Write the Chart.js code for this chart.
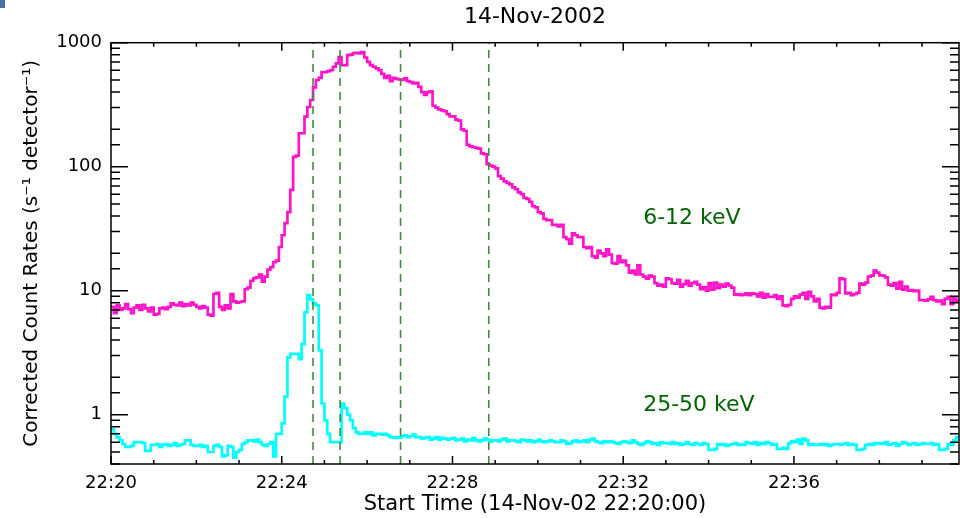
<!DOCTYPE html>
<html>
<head>
<meta charset="utf-8">
<title>RHESSI light curve 14-Nov-2002</title>
<script src="https://cdn.jsdelivr.net/npm/chart.js@4.4.1/dist/chart.umd.min.js"></script>
<style>
  html, body { margin: 0; padding: 0; background: #fff; }
  #wrap { position: relative; width: 960px; height: 518px; }
  #corner { position: absolute; left: 0; top: 0; width: 5px; height: 8px; background: #4a6fa5; }
</style>
</head>
<body>
<div id="wrap"><canvas id="lightCurve"></canvas><div id="corner"></div></div>
<script>
// 4 s accumulation bins starting at 22:20:00, one row per minute
const BIN_SECONDS = 4;

const lowBand = [ // 6-12 keV
  7.4, 6.6, 7.6, 7.0, 7.2, 7.8, 7.1, 6.6, 7.3, 7.6, 7.0, 7.7, 7.2, 6.8, 7.3,
  6.4, 6.5, 7.2, 7.3, 7.1, 7.4, 7.9, 7.7, 7.6, 8.0, 7.5, 7.8, 7.6, 8.0, 7.7,
  7.4, 7.2, 7.5, 7.3, 6.4, 6.3, 9.4, 9.6, 7.4, 7.0, 7.6, 7.2, 9.4, 8.2, 8.0,
  8.1, 8.2, 10.3, 10.6, 12.0, 12.6, 12.8, 13.5, 11.8, 13.0, 14.8, 15.5, 17.0, 17.5, 22.5,
  28, 35, 43, 65, 120, 123, 186, 186, 253, 303, 345, 437, 500, 520, 580,
  580, 590, 602, 640, 680, 765, 660, 660, 795, 800, 825, 830, 820, 840, 760,
  700, 660, 640, 620, 600, 560, 520, 540, 490, 520, 510, 505, 500, 515, 490,
  480, 470, 475, 440, 400, 380, 400, 405, 310, 300, 290, 285, 280, 265, 255,
  255, 240, 235, 200, 195, 150, 146, 144, 142, 140, 128, 126, 105, 102, 100,
  97, 84, 80, 76, 74, 72, 68, 66, 62, 60, 56, 55, 52, 48, 47,
  43, 42, 38, 37, 37, 34, 34, 33, 34, 27, 26, 24, 29, 28, 27,
  27, 22.5, 22, 22.5, 19, 18.5, 21, 20, 19, 21.5, 19.5, 16.7, 16.5, 19, 17,
  17.5, 16, 14, 14.5, 13.5, 16, 13.5, 13, 12.5, 13.2, 13, 11.5, 11, 11.2, 10.8,
  12.6, 12.4, 11.5, 11.4, 12.2, 10.8, 11.3, 12.0, 11.0, 11.5, 11.8, 11.2, 10.3, 10.7, 10.0,
  11.5, 10.2, 11.6, 10.5, 11.2, 10.8, 11.4, 11.0, 10.6, 9.3, 9.4, 9.2, 9.3, 9.5, 9.2,
  9.5, 9.4, 9.0, 9.6, 8.8, 9.4, 8.9, 8.9, 9.2, 8.6, 9.0, 7.6, 7.5, 7.7, 8.6,
  9.0, 8.8, 9.3, 9.6, 8.6, 9.8, 9.0, 8.2, 8.6, 7.3, 7.2, 7.4, 7.3, 9.3, 9.2,
  9.6, 12.6, 12.4, 9.5, 9.6, 9.2, 9.4, 9.6, 11.4, 11.2, 11.6, 13.0, 13.2, 14.5, 14.0,
  13.3, 13.2, 12.8, 11.2, 11.0, 11.5, 10.4, 11.8, 10.2, 10.8, 10.0, 10.1, 9.9, 10.0, 8.4,
  8.4, 8.3, 8.5, 8.9, 8.4, 8.2, 8.3, 7.8, 8.6, 8.9, 7.8, 8.8, 8.3,
];

const highBand = [ // 25-50 keV
  0.76, 0.70, 0.66, 0.62, 0.58, 0.55, 0.55, 0.56, 0.60, 0.60, 0.60, 0.59, 0.51, 0.51, 0.57,
  0.57, 0.58, 0.55, 0.57, 0.58, 0.56, 0.57, 0.59, 0.56, 0.57, 0.58, 0.62, 0.62, 0.57, 0.56,
  0.56, 0.57, 0.55, 0.56, 0.50, 0.50, 0.56, 0.57, 0.55, 0.46, 0.47, 0.56, 0.55, 0.45, 0.50,
  0.52, 0.58, 0.60, 0.62, 0.62, 0.61, 0.63, 0.60, 0.57, 0.56, 0.58, 0.60, 0.46, 0.70, 0.70,
  0.85, 1.4, 2.9, 3.1, 3.1, 3.1, 2.8, 3.7, 6.7, 9.2, 8.5, 7.9, 7.6, 3.3, 1.23,
  0.9, 0.7, 0.6, 0.6, 0.6, 0.6, 1.23, 1.13, 1.0, 0.9, 0.78, 0.72, 0.70, 0.70, 0.72,
  0.70, 0.72, 0.68, 0.70, 0.70, 0.69, 0.70, 0.68, 0.66, 0.65, 0.66, 0.65, 0.67, 0.68, 0.66,
  0.67, 0.69, 0.66, 0.66, 0.64, 0.65, 0.66, 0.63, 0.64, 0.66, 0.63, 0.65, 0.64, 0.63, 0.64,
  0.65, 0.62, 0.63, 0.64, 0.61, 0.63, 0.62, 0.65, 0.62, 0.61, 0.62, 0.64, 0.63, 0.61, 0.62,
  0.62, 0.61, 0.63, 0.64, 0.61, 0.62, 0.62, 0.61, 0.60, 0.63, 0.62, 0.61, 0.62, 0.60, 0.61,
  0.63, 0.61, 0.60, 0.61, 0.62, 0.61, 0.60, 0.60, 0.62, 0.61, 0.58, 0.59, 0.61, 0.62, 0.60,
  0.61, 0.62, 0.60, 0.63, 0.64, 0.61, 0.60, 0.59, 0.61, 0.60, 0.61, 0.60, 0.59, 0.58, 0.60,
  0.61, 0.60, 0.59, 0.62, 0.60, 0.58, 0.57, 0.59, 0.61, 0.60, 0.58, 0.59, 0.57, 0.60, 0.59,
  0.59, 0.58, 0.60, 0.58, 0.59, 0.57, 0.58, 0.60, 0.58, 0.57, 0.59, 0.58, 0.57, 0.59, 0.58,
  0.52, 0.52, 0.53, 0.58, 0.57, 0.58, 0.56, 0.57, 0.58, 0.59, 0.57, 0.58, 0.57, 0.60, 0.59,
  0.58, 0.60, 0.57, 0.59, 0.58, 0.60, 0.59, 0.57, 0.58, 0.53, 0.53, 0.54, 0.53, 0.59, 0.61,
  0.60, 0.63, 0.58, 0.64, 0.62, 0.57, 0.58, 0.57, 0.57, 0.58, 0.57, 0.58, 0.56, 0.57, 0.58,
  0.58, 0.57, 0.58, 0.59, 0.57, 0.58, 0.57, 0.52, 0.52, 0.53, 0.57, 0.58, 0.57, 0.59, 0.58,
  0.59, 0.58, 0.60, 0.57, 0.58, 0.59, 0.56, 0.58, 0.60, 0.59, 0.57, 0.58, 0.59, 0.57, 0.58,
  0.59, 0.58, 0.58, 0.59, 0.57, 0.58, 0.52, 0.52, 0.53, 0.58, 0.57, 0.62, 0.66,
];

// seconds after 22:20:00 of the imaging interval boundaries
const markerTimes = [284, 322, 407, 531];

const minuteTicks = Array.from({ length: 20 }, (_, i) => i * 60);
const labelTimes = [0, 240, 480, 720, 960];
const timeLabels = ["22:20", "22:24", "22:28", "22:32", "22:36"];

const bandNames = ["6-12 keV", "25-50 keV"];
const bandLabelTime = 748;
const bandLabelRate = [38.5, 1.19];

const Y_MIN = 0.4;
const Y_MAX = 1000;

const isDecade = (v) => Math.abs(Math.log10(v) - Math.round(Math.log10(v))) < 1e-6;

const toSteps = (values) => {
  const pts = values.map((v, i) => ({ x: i * BIN_SECONDS, y: v }));
  pts.push({ x: values.length * BIN_SECONDS, y: values[values.length - 1] });
  return pts;
};

// IDL-style box: inward ticks on all four sides plus the band labels
const idlFrame = {
  id: "idlFrame",
  afterDatasetsDraw(chart) {
    const { ctx, chartArea: a, scales } = chart;
    const x = scales.x;
    const y = scales.y;
    ctx.save();
    ctx.strokeStyle = "#000";
    ctx.lineWidth = 1.5;
    ctx.strokeRect(a.left, a.top, a.right - a.left, a.bottom - a.top);

    ctx.beginPath();
    minuteTicks.forEach((t) => {
      const px = x.getPixelForValue(t);
      const len = t % 240 === 0 ? 8 : 4;
      ctx.moveTo(px, a.bottom);
      ctx.lineTo(px, a.bottom - len);
      ctx.moveTo(px, a.top);
      ctx.lineTo(px, a.top + len);
    });
    y.ticks.forEach((t) => {
      const py = y.getPixelForValue(t.value);
      const len = isDecade(t.value) ? 17 : 9;
      ctx.moveTo(a.left, py);
      ctx.lineTo(a.left + len, py);
      ctx.moveTo(a.right, py);
      ctx.lineTo(a.right - len, py);
    });
    ctx.stroke();

    ctx.fillStyle = "#006400";
    ctx.font = "22px 'DejaVu Sans'";
    ctx.textBaseline = "middle";
    ctx.textAlign = "left";
    bandNames.forEach((name, i) => {
      ctx.fillText(name, x.getPixelForValue(bandLabelTime), y.getPixelForValue(bandLabelRate[i]));
    });
    ctx.restore();
  },
};

const markerSets = markerTimes.map((t) => ({
  data: [{ x: t, y: Y_MIN }, { x: t, y: Y_MAX }],
  borderColor: "#3f8a3f",
  borderWidth: 1.6,
  borderDash: [8, 6],
  pointRadius: 0,
  order: 0,
}));

Chart.defaults.font.family = "'DejaVu Sans', sans-serif";
Chart.defaults.color = "#000";

new Chart(document.getElementById("lightCurve"), {
  type: "line",
  data: {
    datasets: [
      ...markerSets,
      {
        label: bandNames[0],
        data: toSteps(lowBand),
        borderColor: "#ff14c8",
        borderWidth: 2.7,
        stepped: true,
        pointRadius: 0,
        order: 1,
      },
      {
        label: bandNames[1],
        data: toSteps(highBand),
        borderColor: "#00ffff",
        borderWidth: 2.7,
        stepped: true,
        pointRadius: 0,
        order: 1,
      },
    ],
  },
  options: {
    responsive: true,
    maintainAspectRatio: false,
    animation: false,
    events: [],
    layout: { padding: { left: 0, right: 1, top: 0, bottom: 0 } },
    plugins: {
      legend: { display: false },
      tooltip: { enabled: false },
      title: {
        display: true,
        fullSize: false,
        text: "14-Nov-2002",
        font: { size: 22, weight: "normal" },
        color: "#000",
        padding: { top: 4, bottom: 12.3 },
      },
    },
    scales: {
      x: {
        type: "linear",
        min: 0,
        max: lowBand.length * BIN_SECONDS,
        grid: { display: false, drawTicks: false },
        border: { display: false },
        afterBuildTicks: (scale) => {
          scale.ticks = labelTimes.map((v) => ({ value: v }));
        },
        ticks: {
          autoSkip: false,
          maxRotation: 0,
          padding: 9,
          font: { size: 18 },
          callback: (v) => timeLabels[labelTimes.indexOf(v)] || "",
        },
        title: {
          display: true,
          text: "Start Time (14-Nov-02 22:20:00)",
          font: { size: 21 },
          padding: { top: 0, bottom: 0.5 },
        },
        afterFit: (scale) => {
          scale.height = 54;
        },
      },
      y: {
        type: "logarithmic",
        min: Y_MIN,
        max: Y_MAX,
        grid: { display: false, drawTicks: false },
        border: { display: false },
        ticks: {
          autoSkip: false,
          padding: 9,
          font: { size: 18 },
          callback: (v) => (isDecade(v) ? String(Math.round(v)) : ""),
        },
        title: {
          display: true,
          text: "Corrected Count Rates (s⁻¹ detector⁻¹)",
          font: { size: 20 },
          padding: { top: 20, bottom: 0 },
        },
        afterFit: (scale) => {
          scale.width = 111;
        },
      },
    },
  },
  plugins: [idlFrame],
});
</script>
</body>
</html>
